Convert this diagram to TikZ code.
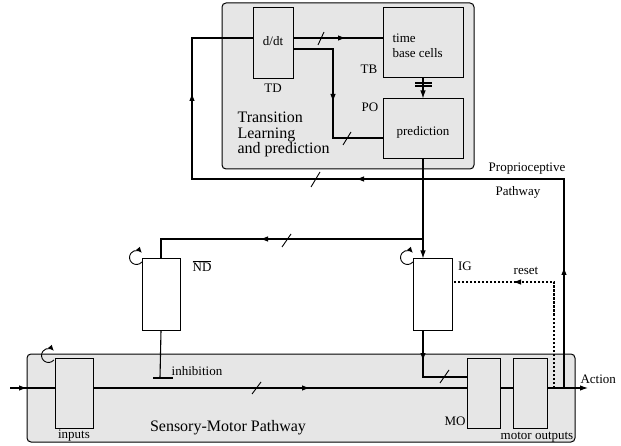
\documentclass[tikz,border=0pt]{standalone}
\usepackage{fontspec}
\setmainfont{Liberation Serif}
\usetikzlibrary{arrows.meta}
\definecolor{panel}{HTML}{E6E6E6}
\begin{document}
\begin{tikzpicture}[x=1pt,y=-1pt,line width=1.1pt,
  tip/.style={-{Latex[length=8pt,width=5.5pt]}},
  box/.style={draw,line width=1pt,inner sep=0pt},
  panelbox/.style={draw,fill=panel,rounded corners=4pt,line width=1pt,inner sep=0pt},
  lbl/.style={inner sep=0pt,font=\fontsize{13}{15}\selectfont,align=left},
  big/.style={inner sep=0pt,font=\fontsize{16}{15.5}\selectfont,align=left},
  selfloop/.style={-{Latex[length=6pt,width=5pt]},line width=0.9pt},
  slash/.style={line width=0.9pt},
  dashline/.style={dash pattern=on 2.5pt off 1.5pt}
]
\useasboundingbox (0,0) rectangle (621,446);
% panels
\node[panelbox,minimum width=252pt,minimum height=166pt] (TL) at (348,86) {};
\node[panelbox,minimum width=548pt,minimum height=88pt] (SM) at (301,398) {};
% boxes
\node[box,minimum width=40pt,minimum height=71pt] (TD) at (273,43.5) {};
\node[box,minimum width=80pt,minimum height=70pt] (TB) at (423,43) {};
\node[box,minimum width=80pt,minimum height=60pt] (PO) at (423,129) {};
\node[box,minimum width=38pt,minimum height=71pt] (ND) at (161,294.5) {};
\node[box,minimum width=39pt,minimum height=71pt] (IG) at (432.5,294.5) {};
\node[box,minimum width=38pt,minimum height=70pt] (IN) at (74,393) {};
\node[box,minimum width=33pt,minimum height=70pt] (MO) at (483.5,393) {};
\node[box,minimum width=34pt,minimum height=70pt] (MOUT) at (530,393) {};
% labels
\node[lbl] (tdt) at (273,41) {d/dt};
\node[lbl] (tdl) at (273,88) {TD};
\node[lbl,anchor=west] (tbt) at (392,45.5) {time\\base cells};
\node[lbl] (tbl) at (369,69) {TB};
\node[lbl] (pol) at (370,107) {PO};
\node[lbl] (pot) at (423,132) {prediction};
\node[big,anchor=west] (tlt) at (237,134.5) {Transition\\Learning\\and prediction};
\node[lbl] (pp1) at (527,169) {Proprioceptive};
\node[lbl] (pp2) at (518,192) {Pathway};
\node[lbl] (ndl) at (202,266) {$\overline{\mbox{ND}}$};
\node[lbl] (igl) at (465,266) {IG};
\node[lbl] (rst) at (526,271) {reset};
\node[lbl] (inh) at (197,371) {inhibition};
\node[lbl] (inl) at (74,436) {inputs};
\node[big] (smt) at (228,428) {Sensory-Motor Pathway};
\node[lbl] (mol) at (455,421) {MO};
\node[lbl] (mot) at (537,437) {motor outputs};
\node[lbl,anchor=west] (act) at (580,379) {Action};
% junctions
\coordinate (pj) at (564,388);
\coordinate (rj) at (554,388);
\coordinate (br) at (423,239);
\coordinate (inhb) at (160,378);
\coordinate (src) at (10,388);
\coordinate (aend) at (588,388);
% TD -> TB
\draw (TD.east |- 0,38) -- (TB.west |- 0,38);
\draw[tip] (336,38) -- (346,38);
\draw[slash] (318,45) -- (324,32);
% TD -> PO
\draw (TD.east |- 0,49) -- (333,49) -- (333,138) -- (PO.west |- 0,138);
\draw[tip] (333,94) -- (333,102);
\draw[slash] (343,145) -- (351,132);
% TB -> PO
\draw[tip] (TB.south) -- (PO.north);
\draw (415,83) -- (432,83);
\draw (415,86) -- (432,86);
% proprioceptive loop
\draw (pj) -- (564,179) -- (192,179) -- (192,38) -- (TD.west |- 0,38);
\draw[tip] (564,275) -- (564,267);
\draw[tip] (366,179) -- (356,179);
\draw[tip] (192,101) -- (192,93);
\draw[slash] (311,187) -- (320,172);
% PO -> IG, branch to ND
\draw[tip] (PO.south) -- (IG.north -| PO.south);
\draw (br) -- (br -| ND.north) -- (ND.north);
\draw[tip] (270,239) -- (260,239);
\draw[slash] (282,247) -- (291,234);
% inhibition
\draw (ND.south) -- (inhb);
\draw (153,378) -- (173,378);
% IG -> MO
\draw (IG.south -| 423,0) -- (423,377) -- (MO.west |- 0,377);
\draw[tip] (423,353) -- (423,361);
\draw[slash] (440,383) -- (449,370);
% main line
\draw (src) -- (IN.west |- src);
\draw[tip] (17,388) -- (27,388);
\draw (IN.east |- src) -- (MO.west |- src);
\draw[tip] (300,388) -- (310,388);
\draw[slash] (252,394) -- (261,382);
\draw (MO.east |- src) -- (MOUT.west |- src);
\draw[tip] (MOUT.east |- src) -- (aend);
% reset
\draw[dashline] (rj) -- (554,282) -- (IG.east |- 0,282);
\draw[tip] (521,282) -- (513,282);
% self loops
\draw[selfloop] ([shift={(-5,-1)}]ND.north west) ++(40:7) arc[start angle=-40,end angle=-320,radius=7pt];
\draw[selfloop] ([shift={(-5,-1)}]IG.north west) ++(40:7) arc[start angle=-40,end angle=-320,radius=7pt];
\draw[selfloop] ([shift={(-6,-2)}]IN.north west) ++(40:7) arc[start angle=-40,end angle=-320,radius=7pt];
\end{tikzpicture}
\end{document}
